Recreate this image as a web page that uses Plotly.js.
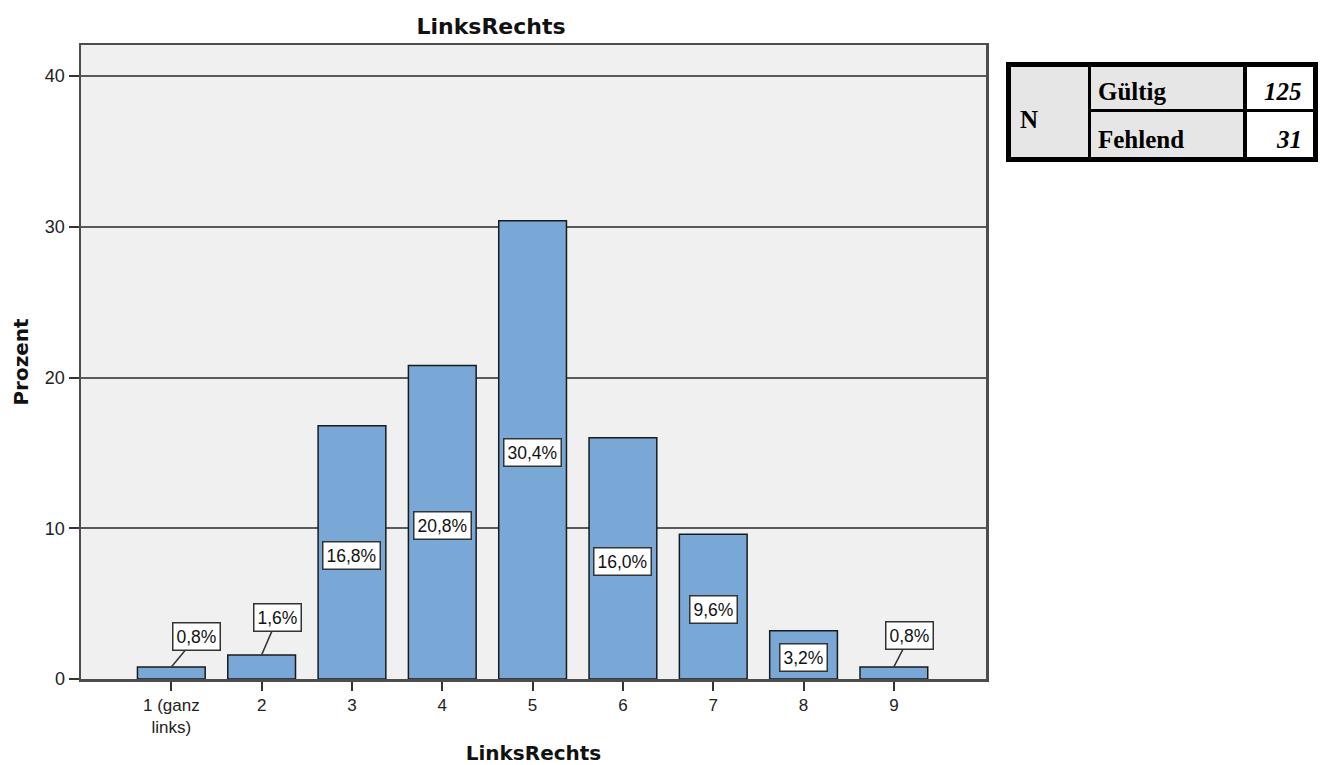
<!DOCTYPE html>
<html>
<head>
<meta charset="utf-8">
<script src="https://cdn.plot.ly/plotly-3.0.1.min.js"></script>
<style>html,body{margin:0;padding:0;background:#fff;}#chart{width:1323px;height:765px;}</style>
</head>
<body>
<div id="chart"></div>
<script>
// ---- data ----
const categories = ['1 (ganz<br>links)', '2', '3', '4', '5', '6', '7', '8', '9'];
const percents = [0.8, 1.6, 16.8, 20.8, 30.4, 16.0, 9.6, 3.2, 0.8];
const yTicks = [0, 10, 20, 30, 40];
const chartTitle = 'LinksRechts';
const xTitle = 'LinksRechts';
const yTitle = 'Prozent';
const tableHeader = 'N';
const tableRowLabels = ['Gültig', 'Fehlend'];
const tableValues = [125, 31];

// ---- layout geometry (pixels) ----
const W = 1323, H = 765;
const PL = 81, PR = 986, PT = 45, PB = 679;
const px2x = p => (p - PL) / (PR - PL);
const px2y = p => (PB - p) / (PB - PT);

const sans = 'Liberation Sans, Arial, sans-serif';
const bold = 'DejaVu Sans, Verdana, sans-serif';
const serif = 'Liberation Serif, Times New Roman, serif';

function fmt(v) { return v.toFixed(1).replace('.', ',') + '%'; }

// outside label offsets (style) for small bars
const outsideOffsets = {0: [25, -30], 1: [16, -37], 8: [16, -31]};

const annotations = [];
percents.forEach((v, i) => {
  const base = {
    xref: 'x', yref: 'y', x: i, text: fmt(v),
    font: {family: sans, size: 17.5, color: '#111'},
    bgcolor: '#ffffff', bordercolor: '#333', borderwidth: 1.5, borderpad: 3
  };
  if (outsideOffsets[i]) {
    annotations.push(Object.assign(base, {
      y: v, showarrow: true, arrowhead: 0, arrowwidth: 1.5, arrowcolor: '#333',
      ax: outsideOffsets[i][0], ay: outsideOffsets[i][1], standoff: 0, startstandoff: 0
    }));
  } else {
    annotations.push(Object.assign(base, {y: v / 2, yshift: -3, showarrow: false}));
  }
});

// ---- table (N Gültig / Fehlend) ----
const T = {l: 1006, r: 1318, t: 62, b: 162, c1: 1088, c1b: 1091, c2: 1243, c2b: 1247, rowT: 109, rowB: 112, in: 5};
const shapes = [];
function rect(x0, y0, x1, y1, fill) {
  shapes.push({type: 'rect', xref: 'paper', yref: 'paper', layer: 'above',
    x0: px2x(x0), x1: px2x(x1), y0: px2y(y1), y1: px2y(y0),
    fillcolor: fill, line: {width: 0}});
}
rect(T.l, T.t, T.r, T.b, '#000000');
rect(T.l + T.in, T.t + T.in, T.c1, T.b - T.in, '#e6e6e6');
rect(T.c1b, T.t + T.in, T.c2, T.rowT, '#e6e6e6');
rect(T.c1b, T.rowB, T.c2, T.b - T.in, '#e6e6e6');
rect(T.c2b, T.t + T.in, T.r - T.in, T.rowT, '#ffffff');
rect(T.c2b, T.rowB, T.r - T.in, T.b - T.in, '#ffffff');

const rowCenters = [91, 140];
annotations.push({xref: 'paper', yref: 'paper', x: px2x(1018), y: px2y(119), xanchor: 'left', yanchor: 'middle',
  text: '<b>' + tableHeader + '</b>', showarrow: false, font: {family: serif, size: 25, color: '#000'}});
tableRowLabels.forEach((lab, i) => {
  annotations.push({xref: 'paper', yref: 'paper', x: px2x(1096), y: px2y(rowCenters[i]), xanchor: 'left', yanchor: 'middle',
    text: '<b>' + lab + '</b>', showarrow: false, font: {family: serif, size: 25, color: '#000'}});
  annotations.push({xref: 'paper', yref: 'paper', x: px2x(1304), y: px2y(rowCenters[i]), xanchor: 'right', yanchor: 'middle',
    text: '<b><i>' + tableValues[i] + '</i></b>', showarrow: false, font: {family: serif, size: 25, color: '#000'}});
});

const trace = {
  type: 'bar', x: categories, y: percents,
  marker: {color: '#79a8d6', line: {color: '#1a1a1a', width: 1.5}},
  hoverinfo: 'skip'
};

const layout = {
  width: W, height: H,
  margin: {l: PL, r: W - PR, t: PT, b: H - PB, pad: 0},
  paper_bgcolor: '#ffffff', plot_bgcolor: '#f0f0f0',
  showlegend: false, bargap: 0.25,
  title: {text: '<b>' + chartTitle + '</b>', font: {family: bold, size: 22, color: '#111'},
    xref: 'container', yref: 'container', x: 491 / W, xanchor: 'center', y: 1 - 26 / H, yanchor: 'middle'},
  xaxis: {
    type: 'category', range: [-1, 9.02], fixedrange: true,
    showline: true, mirror: true, linecolor: '#4d4d4d', linewidth: 2.5,
    ticks: 'outside', ticklen: 9, tickwidth: 2, tickcolor: '#333',
    showgrid: false, zeroline: false,
    tickfont: {family: sans, size: 17, color: '#222'},
    title: {text: '<b>' + xTitle + '</b>', font: {family: bold, size: 20, color: '#111'}, standoff: 12}
  },
  yaxis: {
    range: [0, 42.06], fixedrange: true, tickvals: yTicks,
    showline: true, mirror: true, linecolor: '#4d4d4d', linewidth: 2.5,
    ticks: 'outside', ticklen: 10, tickwidth: 2, tickcolor: '#333',
    showgrid: true, gridcolor: '#5a5a5a', gridwidth: 2, zeroline: false,
    tickfont: {family: sans, size: 18, color: '#222'},
    title: {text: '<b>' + yTitle + '</b>', font: {family: bold, size: 20, color: '#111'}, standoff: 11}
  },
  annotations: annotations,
  shapes: shapes
};

Plotly.newPlot('chart', [trace], layout, {displayModeBar: false, staticPlot: true});
</script>
</body>
</html>
